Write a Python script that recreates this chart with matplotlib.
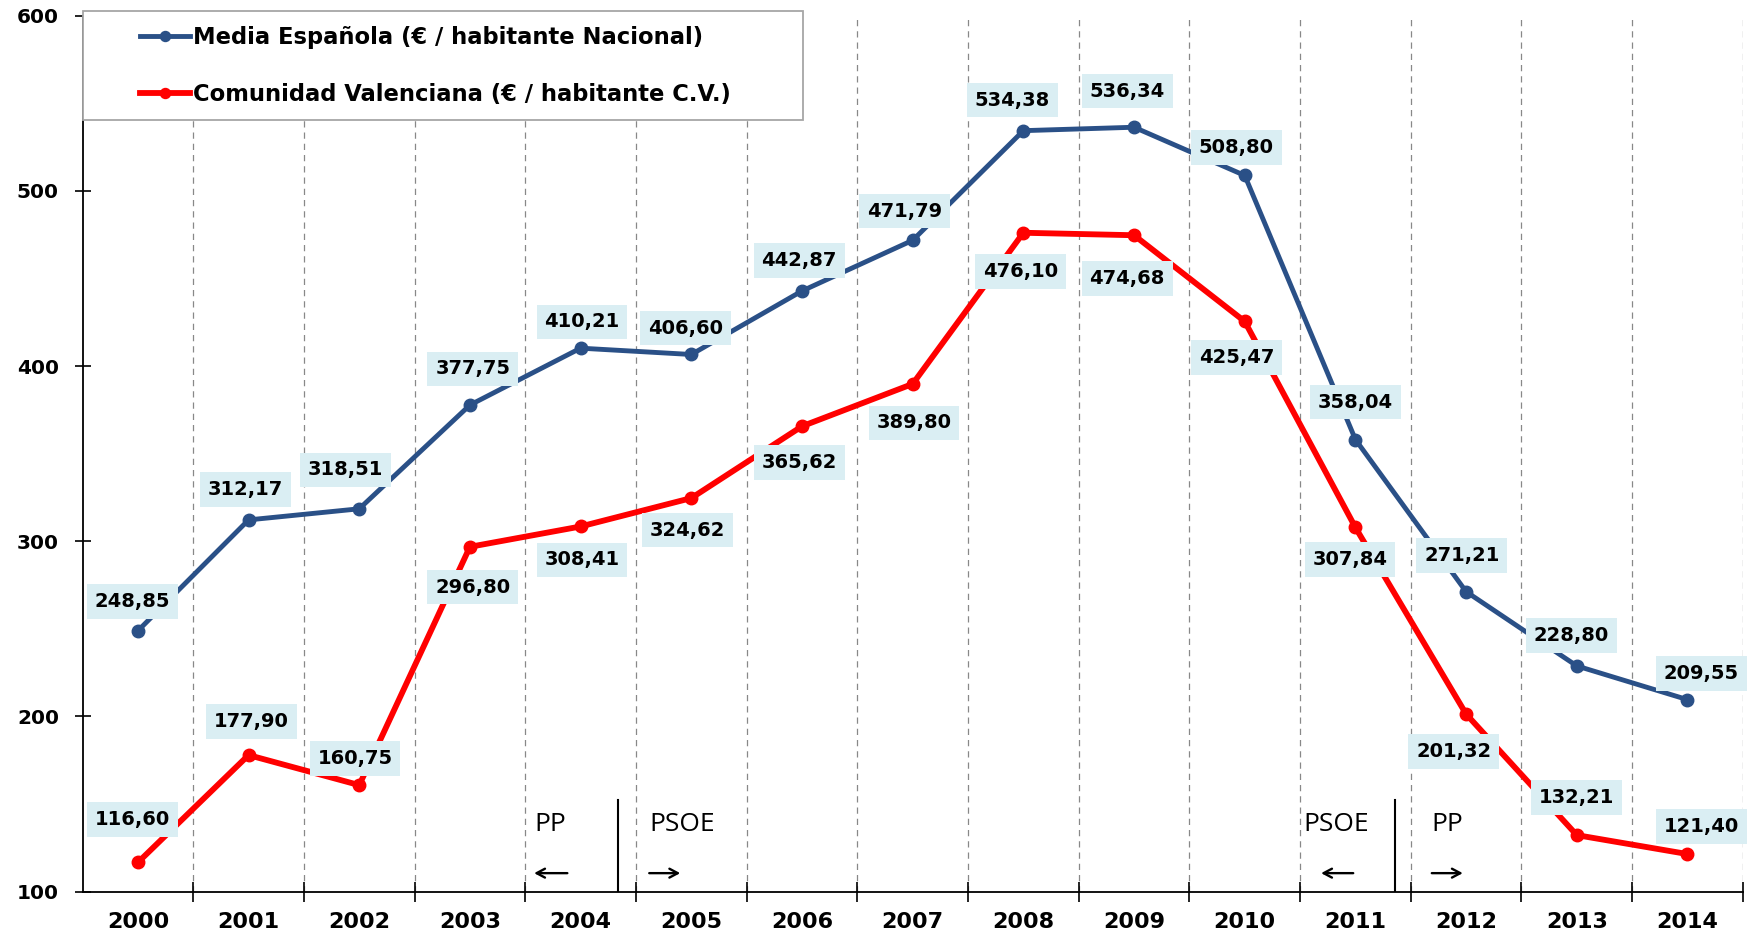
import matplotlib
matplotlib.use("Agg")
import matplotlib.pyplot as plt
from matplotlib.patches import Rectangle
from matplotlib.ticker import FixedLocator

years = [str(y) for y in range(2000, 2015)]
media_espanola = [248.85, 312.17, 318.51, 377.75, 410.21, 406.60, 442.87, 471.79,
                  534.38, 536.34, 508.80, 358.04, 271.21, 228.80, 209.55]
com_valenciana = [116.60, 177.90, 160.75, 296.80, 308.41, 324.62, 365.62, 389.80,
                  476.10, 474.68, 425.47, 307.84, 201.32, 132.21, 121.40]

# label offsets (points) relative to each marker
off_blue = [(-4, 21), (-2, 22), (-10, 28), (2, 26), (1, 19), (-4, 19), (-2, 22), (-6, 21),
            (-8, 22), (-5, 26), (-6, 20), (0, 27), (-3, 26), (-4, 22), (10, 19)]
off_red = [(-4, 31), (2, 24), (-3, 19), (2, -29), (1, -24), (-3, -23), (-2, -26), (1, -28),
           (-2, -28), (-5, -31), (-6, -26), (-4, -23), (-9, -27), (0, 27), (10, 20)]

BLUE = "#2A5087"
RED = "#FF0000"
BOX = "#DAEEF3"

W, H = 1756, 936
fig = plt.figure(figsize=(W / 100, H / 100), dpi=100)
ax = fig.add_axes([0.047, 0.0475, 0.9455, 0.9357])

x = list(range(len(years)))
ax.plot(x, media_espanola, "-o", color=BLUE, lw=3.5, ms=9, zorder=3,
        label="Media Española (€ / habitante Nacional)")
ax.plot(x, com_valenciana, "-o", color=RED, lw=4.2, ms=9, zorder=3,
        label="Comunidad Valenciana (€ / habitante C.V.)")

def fmt(v):
    return f"{v:.2f}".replace(".", ",")

for vals, offs in [(media_espanola, off_blue), (com_valenciana, off_red)]:
    for xi, v, o in zip(x, vals, offs):
        ax.annotate(fmt(v), (xi, v), xytext=o, textcoords="offset points",
                    ha="center", va="center", fontsize=14, fontweight="bold", zorder=5,
                    bbox=dict(boxstyle="square,pad=0.4", fc=BOX, ec="none"))

ax.set_xlim(-0.5, 14.5)
ax.set_ylim(100, 600)
ax.set_xticks(x)
ax.set_xticklabels(years, fontsize=16, fontweight="bold")
ax.xaxis.set_minor_locator(FixedLocator([i + 0.5 for i in range(15)]))
ax.tick_params(axis="x", which="major", length=0, pad=15)
ax.tick_params(axis="x", which="minor", direction="inout", length=14, width=1.2)
ax.set_yticks(range(100, 601, 100))
ax.tick_params(axis="y", direction="inout", length=12, width=1.2, labelsize=14.5, pad=11)
for t in ax.get_yticklabels():
    t.set_fontweight("bold")
ax.grid(True, which="minor", axis="x", ls=(0, (5, 4)), color="#888888", lw=0.9)
ax.spines["top"].set_visible(False)
ax.spines["right"].set_visible(False)
ax.spines["left"].set_linewidth(1.3)
ax.spines["bottom"].set_linewidth(1.3)

# government change markers
fam = ["Open Sans", "DejaVu Sans"]
for xv in [4.34, 11.36]:
    ax.plot([xv, xv], [100, 152], color="black", lw=1.5, zorder=2)
for xt, txt in [(3.58, "PP"), (4.62, "PSOE"), (10.53, "PSOE"), (11.69, "PP")]:
    ax.text(xt, 138, txt, fontsize=19, family=fam, va="center")
for x0, x1 in [(3.88, 3.58), (4.62, 4.90), (10.98, 10.69), (11.69, 11.97)]:
    ax.annotate("", xy=(x1, 110.5), xytext=(x0, 110.5),
                arrowprops=dict(arrowstyle="->,head_length=0.6,head_width=0.32",
                                lw=1.7, color="black", shrinkA=0, shrinkB=0))

# legend box
ax.add_patch(Rectangle((83 / W, 1 - 120 / H), 720 / W, 109 / H, transform=fig.transFigure,
                       fc="white", ec="#A6A6A6", lw=1.3, clip_on=False, zorder=6))
leg = ax.legend(loc="center left", bbox_to_anchor=(140 / W, 1 - 66 / H),
                bbox_transform=fig.transFigure, frameon=False,
                prop=dict(size=16.3, weight="bold"), handlelength=2.2,
                handletextpad=0.15, labelspacing=1.5, borderpad=0,
                borderaxespad=0, markerscale=0.8)
leg.set_zorder(7)

fig.savefig("out.png", dpi=100)
